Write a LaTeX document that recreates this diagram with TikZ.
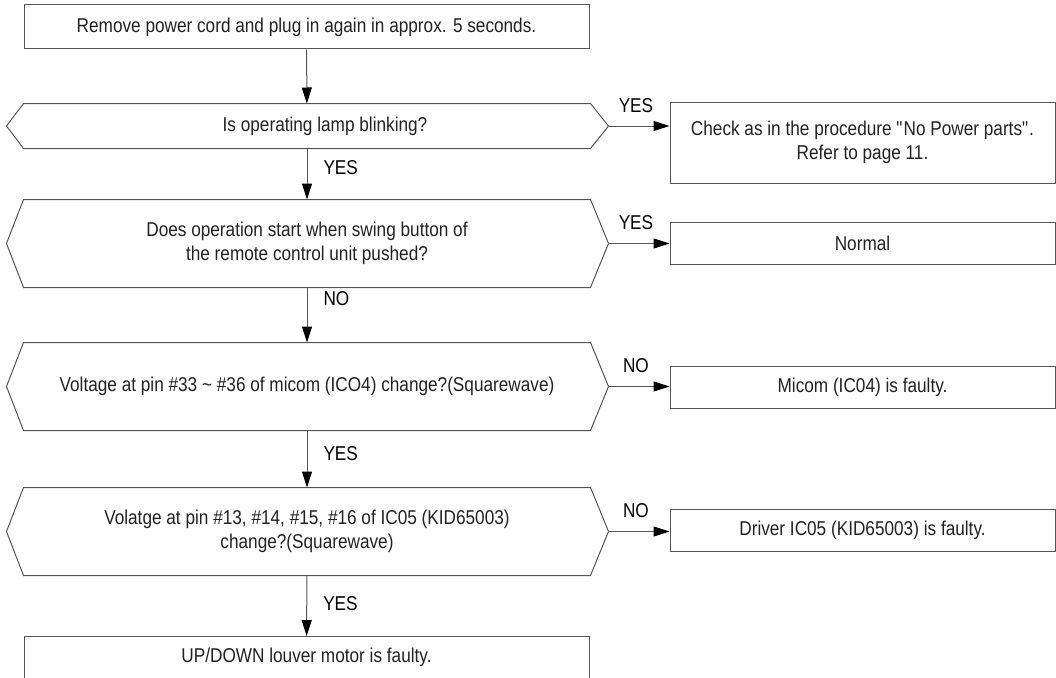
\documentclass[tikz,border=0pt]{standalone}
\usepackage{fontspec}
\setmainfont{Liberation Sans}[FakeStretch=0.86]
\usetikzlibrary{arrows.meta}

\definecolor{linegray}{HTML}{555555}
\definecolor{textgray}{HTML}{222222}

\tikzset{
    % Boxes - thin gray frame
    box/.style={draw=linegray, line width=1pt, rectangle, inner sep=0pt,
        align=center, text=textgray, font=\fontsize{20}{24}\selectfont},
    % Decision text holder, the outline is drawn afterwards
    decision/.style={box, draw=none, minimum width=566pt},
    hexline/.style={linegray, line width=1pt},
    % Connectors - gray line, black head
    flow/.style={-{Triangle[length=16pt,width=10pt,black]}, linegray, line width=1pt},
    % Answer labels
    answer/.style={font=\fontsize{20}{24}\selectfont, text=black, inner sep=2pt},
}

\begin{document}
\begin{tikzpicture}[x=1pt,y=-1pt]
    \path[use as bounding box, clip] (0,0) rectangle (1056,677);

    % Main column
    \node[box, minimum width=565pt, minimum height=44pt] (start) at (306.5,27)
        {Remove power cord and plug in again in approx. 5 seconds.};
    \node[decision, minimum height=44pt] (lamp) at (307,126)
        {\hspace*{36pt}Is operating lamp blinking?};
    \node[decision, minimum height=87pt] (swing) at (307,243.5)
        {Does operation start when swing button of\\the remote control unit pushed?};
    \node[decision, minimum height=87pt] (micom) at (307,386.5)
        {Voltage at pin \#33 \textasciitilde{} \#36 of micom (ICO4) change?(Squarewave)};
    \node[decision, minimum height=87pt] (ic05) at (307,531.5)
        {Volatge at pin \#13, \#14, \#15, \#16 of IC05 (KID65003)\\change?(Squarewave)};
    \node[box, minimum width=565pt, minimum height=80pt, anchor=north,
        text depth=42pt] (motor) at (306.5,636)
        {UP/DOWN louver motor is faulty.};

    % Hexagon outlines
    \foreach \h in {lamp,swing,micom,ic05} {
        \draw[hexline] (\h.north west) -- (\h.north east) -- ([xshift=18pt]\h.east)
            -- (\h.south east) -- (\h.south west) -- ([xshift=-17pt]\h.west) -- cycle;
    }
    \coordinate (lamptip) at ([xshift=18pt]lamp.east);
    \coordinate (swingtip) at ([xshift=18pt]swing.east);
    \coordinate (micomtip) at ([xshift=18pt]micom.east);
    \coordinate (ic05tip) at ([xshift=18pt]ic05.east);

    % Right column
    \node[box, minimum width=385pt, minimum height=81pt] (nopower) at (862.5,142.5)
        {Check as in the procedure \textquotedbl No Power parts\textquotedbl.\\Refer to page 11.};
    \node[box, minimum width=385pt, minimum height=42pt] (normal) at (862.5,243) {Normal};
    \node[box, minimum width=385pt, minimum height=42pt] (icfault) at (862.5,387)
        {Micom (IC04) is faulty.};
    \node[box, minimum width=385pt, minimum height=42pt] (drvfault) at (862.5,530)
        {Driver IC05 (KID65003) is faulty.};

    % Downward flow
    \draw[flow] (start) -- (lamp);
    \draw[flow] (lamp) -- node[answer, right=14pt, pos=0.38] {YES} (swing);
    \draw[flow] (swing) -- node[answer, right=14pt, pos=0.2] {NO} (micom);
    \draw[flow] (micom) -- node[answer, right=14pt, pos=0.4] {YES} (ic05);
    \draw[flow] (ic05) -- node[answer, right=14pt, pos=0.46] {YES} (motor);

    % Side exits
    \draw[flow] (lamptip) -- node[answer, above=11pt, pos=0.45] {YES} (lamptip -| nopower.west);
    \draw[flow] (swingtip) -- node[answer, above=11pt, pos=0.45] {YES} (swingtip -| normal.west);
    \draw[flow] (micomtip) -- node[answer, above=11pt, pos=0.45] {NO} (micomtip -| icfault.west);
    \draw[flow] (ic05tip) -- node[answer, above=11pt, pos=0.45] {NO} (ic05tip -| drvfault.west);
\end{tikzpicture}
\end{document}
